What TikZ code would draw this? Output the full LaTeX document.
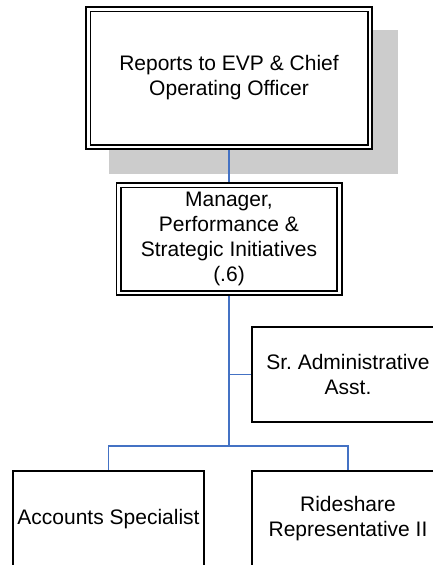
\documentclass[tikz,border=0pt]{standalone}
\usepackage{fontspec}
\setmainfont{Liberation Sans}
\usetikzlibrary{calc,backgrounds}
\frenchspacing

\definecolor{linkblue}{HTML}{4472C4}
\definecolor{shadowgray}{HTML}{CCCCCC}

\tikzset{
  orgtext/.style={align=center, font=\fontsize{21}{25}\selectfont, inner sep=0pt, outer sep=0pt},
  headbox/.style={orgtext, draw=black, fill=white, line width=1.7pt, double=white, double distance=2.8pt},
  unitbox/.style={orgtext, draw=black, fill=white, line width=1.5pt},
  link/.style={draw=linkblue, line width=1.7pt},
}

\begin{document}
\begin{tikzpicture}[x=1pt, y=-1pt]
  \useasboundingbox (0,0) rectangle (433,565);
  \clip (0,0) rectangle (433,565);

  % top of the chart
  \node[headbox, minimum width=281.8pt, minimum height=137.8pt] (top) at (229,78)
    {Reports to EVP \& Chief\\Operating Officer};
  \node[headbox, minimum width=220.8pt, minimum height=107.8pt] (mgr) at (229,239)
    {Manager,\\Performance \&\\Strategic Initiatives\\(.6)};

  % staff and direct reports
  \node[unitbox, minimum width=192pt, minimum height=95pt] (sr) at (348,374.5)
    {Sr. Administrative\\Asst.};
  \node[unitbox, minimum width=191pt, minimum height=96pt] (acc) at (108.5,519)
    {Accounts Specialist};
  \node[unitbox, minimum width=192pt, minimum height=96pt] (ride) at (348,519)
    {Rideshare\\Representative II};

  \coordinate (bus) at (229,446);

  \begin{scope}[on background layer]
    % shadow behind the top box
    \fill[shadowgray] ($(top.north west)+(21,21)$) rectangle ($(top.south east)+(28,27)$);
    % reporting lines
    \draw[link] (top.south) -- (mgr.north);
    \draw[link] (mgr.south) -- (bus);
    \draw[link] (mgr.south |- sr.west) -- (sr.west);
    \draw[link] (bus) -| (acc.north);
    \draw[link] (bus) -| (ride.north);
  \end{scope}
\end{tikzpicture}
\end{document}
